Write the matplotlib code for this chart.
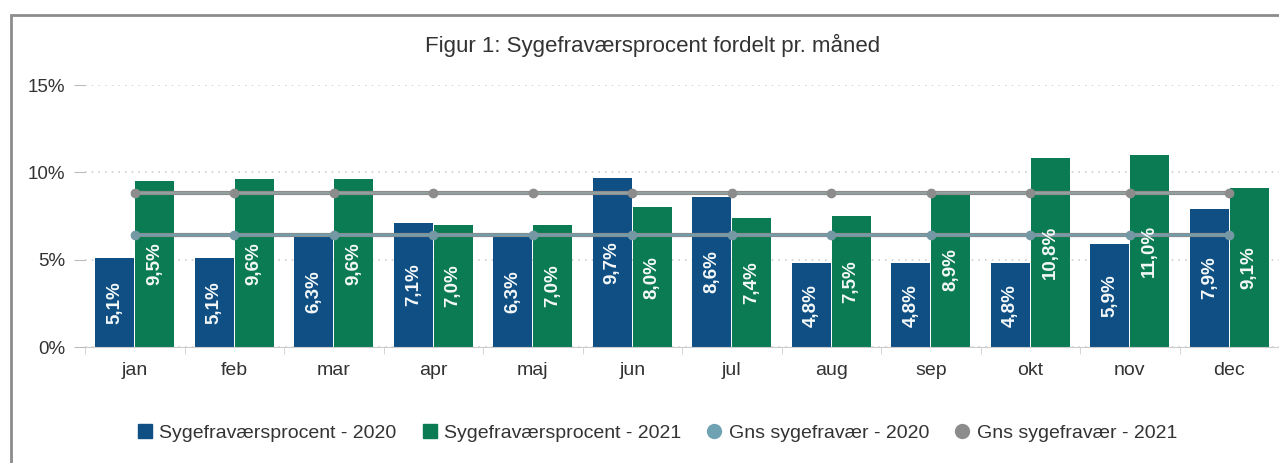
import matplotlib
matplotlib.use('Agg')
import matplotlib.pyplot as plt
import numpy as np
from matplotlib.lines import Line2D
from matplotlib.patches import Rectangle

plt.rcParams['font.family'] = ['Liberation Sans', 'DejaVu Sans']

months = ['jan', 'feb', 'mar', 'apr', 'maj', 'jun', 'jul', 'aug', 'sep', 'okt', 'nov', 'dec']
sick_2020 = [5.1, 5.1, 6.3, 7.1, 6.3, 9.7, 8.6, 4.8, 4.8, 4.8, 5.9, 7.9]
sick_2021 = [9.5, 9.6, 9.6, 7.0, 7.0, 8.0, 7.4, 7.5, 8.9, 10.8, 11.0, 9.1]
avg_2020 = [6.4] * 12
avg_2021 = [8.8] * 12

blue = '#0f4f84'
green = '#0a7b52'
teal = '#6fa3b3'
grey = '#8c8c8c'

fig = plt.figure(figsize=(12.79, 4.63), dpi=100)
ax = fig.add_axes([85 / 1279, 1 - 347 / 463, 1194 / 1279, 262 / 463])

x = np.arange(len(months))
w = 0.39
b1 = ax.bar(x - 0.2, sick_2020, w, color=blue, zorder=2)
b2 = ax.bar(x + 0.2, sick_2021, w, color=green, zorder=2)

for bars, vals in ((b1, sick_2020), (b2, sick_2021)):
    for bar, v in zip(bars, vals):
        ax.text(bar.get_x() + bar.get_width() / 2, v / 2, f'{v:.1f}%'.replace('.', ','),
                rotation=90, ha='center', va='center', color='#f4f8f8',
                fontsize=13.5, fontweight='bold', zorder=5)

# average lines
ax.plot(x, avg_2021, color=grey, lw=3, zorder=3, solid_capstyle='butt')
ax.plot(x, avg_2021, color='#95a8a5', lw=1.1, zorder=3)
ax.plot(x, avg_2021, 'o', color=grey, ms=6, zorder=3)
ax.plot(x, avg_2020, color='#858d91', lw=3, zorder=3, solid_capstyle='butt')
ax.plot(x, avg_2020, color=teal, lw=1.1, zorder=3)
ax.plot(x, avg_2020, 'o', color='#7498a4', ms=6, zorder=3)

ax.set_xlim(-0.5, 11.46)
ax.set_ylim(0, 15)
ax.set_yticks([0, 5, 10, 15])
ax.set_yticklabels(['0%', '5%', '10%', '15%'])
ax.set_xticks(x)
ax.set_xticklabels(months)
ax.set_xticks(np.arange(-0.5, 12, 1), minor=True)
ax.tick_params(axis='x', which='major', length=0, pad=11, labelsize=14, labelcolor='#333333')
ax.tick_params(axis='x', which='minor', length=5, color='#cccccc')
ax.tick_params(axis='y', length=8, color='#bbbbbb', pad=6, labelsize=13.5, labelcolor='#333333')
ax.grid(axis='y', linestyle=(0, (1, 3)), color='#cfcfcf', lw=1.2, zorder=0)
for s in ['top', 'right', 'left']:
    ax.spines[s].set_visible(False)
ax.spines['bottom'].set_color('#cccccc')

fig.text(0.510, 1 - 45 / 463, 'Figur 1: Sygefraværsprocent fordelt pr. måned',
         ha='center', va='center', fontsize=16, color='#333333')

handles = [
    Line2D([], [], marker='s', ls='', color=blue, ms=10),
    Line2D([], [], marker='s', ls='', color=green, ms=10),
    Line2D([], [], marker='o', ls='', color=teal, ms=10),
    Line2D([], [], marker='o', ls='', color=grey, ms=10),
]
labels = ['Sygefraværsprocent - 2020', 'Sygefraværsprocent - 2021',
          'Gns sygefravær - 2020', 'Gns sygefravær - 2021']
fig.legend(handles, labels, loc='center', bbox_to_anchor=(0.513, 1 - 433 / 463),
           ncol=4, frameon=False, fontsize=14, handletextpad=0.25, columnspacing=1.2,
           labelcolor='#333333', handlelength=1)

fig.patches.append(Rectangle((11 / 1279, -0.2), 1.2, 1.2 - 15 / 463, transform=fig.transFigure,
                             fill=False, edgecolor='#8c8c8c', lw=2))

fig.savefig('out.png', dpi=100)
